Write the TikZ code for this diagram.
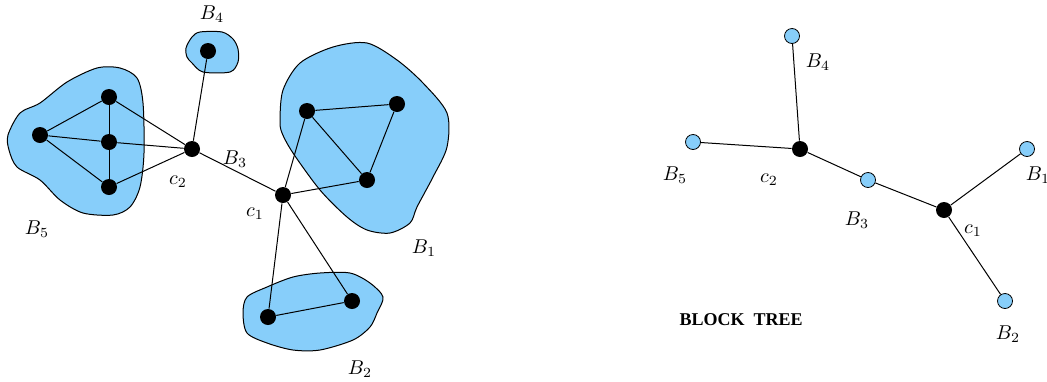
\documentclass[tikz,border=0pt]{standalone}
\usepackage{fontspec}
\newfontfamily\timesfont{Liberation Serif}
\definecolor{blockblue}{RGB}{135,206,250}
\begin{document}
\begin{tikzpicture}[x=0.5pt,y=-0.5pt,
  dot/.style={circle,fill=black,inner sep=0pt,minimum size=8pt},
  bdot/.style={circle,draw=black,fill=blockblue,line width=0.4pt,inner sep=0pt,minimum size=7.5pt},
  blob/.style={draw=black,fill=blockblue,line width=0.5pt},
  edge/.style={line width=0.5pt},
  lab/.style={inner sep=0pt,font=\normalsize}]
\useasboundingbox (0,0) rectangle (1047,381);
% blobs
\draw[blob] plot[smooth cycle,tension=0.5] coordinates {(186,48) (192,37) (200,32) (222,32) (233,39) (238,49) (238,62) (230,72) (203,72) (192,63) (187,57)};
\draw[blob] plot[smooth cycle,tension=0.5] coordinates {(8,135) (20,113) (40,103) (67,82) (97,68) (120,68) (137,78) (143,103) (144,153) (140,187) (130,207) (113,215) (83,213) (60,200) (40,180) (17,167) (9,150)};
\draw[blob] plot[smooth cycle,tension=0.5] coordinates {(280,120) (283,90) (300,63) (333,47) (367,43) (397,60) (423,83) (447,113) (447,147) (433,177) (417,207) (410,223) (390,233) (367,230) (347,217) (320,190) (293,153) (282,133)};
\draw[blob] plot[smooth cycle,tension=0.5] coordinates {(243,313) (247,297) (267,287) (293,277) (320,273) (350,273) (370,283) (383,297) (377,313) (370,327) (353,340) (320,350) (293,350) (267,343) (247,333)};
% left nodes
\node[dot] (b4) at (208,51) {};
\node[dot] (t5) at (109,97) {};
\node[dot] (l5) at (40,135) {};
\node[dot] (m5) at (109,142) {};
\node[dot] (d5) at (109,187) {};
\node[dot] (c2) at (192,149) {};
\node[dot] (c1) at (283,195) {};
\node[dot] (a1) at (307,111) {};
\node[dot] (b1) at (397,104) {};
\node[dot] (e1) at (367,180) {};
\node[dot] (a2) at (268,317) {};
\node[dot] (b2) at (352,301) {};
% left edges
\draw[edge] (b4) -- (c2);
\draw[edge] (c2) -- (t5);
\draw[edge] (c2) -- (m5);
\draw[edge] (c2) -- (d5);
\draw[edge] (l5) -- (t5);
\draw[edge] (l5) -- (m5);
\draw[edge] (l5) -- (d5);
\draw[edge] (t5) -- (m5);
\draw[edge] (m5) -- (d5);
\draw[edge] (c2) -- (c1);
\draw[edge] (c1) -- (a1);
\draw[edge] (c1) -- (e1);
\draw[edge] (a1) -- (b1);
\draw[edge] (a1) -- (e1);
\draw[edge] (b1) -- (e1);
\draw[edge] (c1) -- (a2);
\draw[edge] (c1) -- (b2);
\draw[edge] (a2) -- (b2);
% left labels
\node[lab] (lB4) at (212,14) {$B_4$};
\node[lab] (lc2) at (178,182) {$c_2$};
\node[lab] (lB3) at (235,159) {$B_3$};
\node[lab] (lc1) at (255,214) {$c_1$};
\node[lab] (lB5) at (37,229) {$B_5$};
\node[lab] (lB1) at (424,248) {$B_1$};
\node[lab] (lB2) at (360,369) {$B_2$};
% right tree
\node[bdot] (tB4) at (792,36) {};
\node[dot]  (tc2) at (800,149) {};
\node[bdot] (tB5) at (693,142) {};
\node[bdot] (tB3) at (868,180) {};
\node[dot]  (tc1) at (944,210) {};
\node[bdot] (tB1) at (1027,149) {};
\node[bdot] (tB2) at (1005,301) {};
\draw[edge] (tB4) -- (tc2);
\draw[edge] (tB5) -- (tc2);
\draw[edge] (tc2) -- (tB3);
\draw[edge] (tB3) -- (tc1);
\draw[edge] (tc1) -- (tB1);
\draw[edge] (tc1) -- (tB2);
\node[lab] (rB4) at (818,62) {$B_4$};
\node[lab] (rB5) at (675,175) {$B_5$};
\node[lab] (rc2) at (769,180) {$c_2$};
\node[lab] (rB3) at (857,220) {$B_3$};
\node[lab] (rB1) at (1038,175) {$B_1$};
\node[lab] (rc1) at (973,231) {$c_1$};
\node[lab] (rB2) at (1008,334) {$B_2$};
\node[inner sep=0pt,font=\timesfont\fontsize{9}{10}\selectfont\bfseries] (bt) at (741,320) {BLOCK\ \ TREE};
\end{tikzpicture}
\end{document}
